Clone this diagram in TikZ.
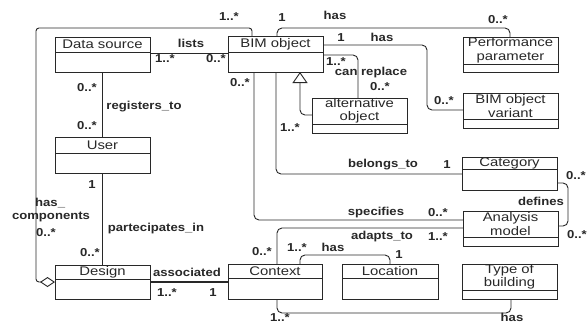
\documentclass[tikz,border=0pt]{standalone}
\usepackage{fontspec}
\setmainfont{Liberation Sans}
\newfontfamily\clsfont{Liberation Sans}[FakeStretch=1.19]
\newfontfamily\lblfont{Liberation Sans}[FakeStretch=1.14]
\usetikzlibrary{arrows.meta}
\definecolor{ink}{RGB}{40,40,40}

% UML class: name, x1, y1, x2, y2, y of title divider, title
\newcommand\umlclass[7]{%
  \node[clsbox, minimum width={#4-#2}, minimum height={#5-#3}] (#1) at ({(#2+#4)/2},{(#3+#5)/2}) {};
  \draw[clsline] (#2,#6) -- (#4,#6);
  \node[clsname] (#1-title) at ({(#2+#4)/2},{(#3+#6)/2}) {#7};
}

\begin{document}
\begin{tikzpicture}[x=1pt,y=-1pt,
  clsbox/.style={draw=ink, line width=0.9pt, inner sep=0pt, outer sep=0pt, rectangle},
  clsline/.style={draw=ink, line width=0.9pt},
  clsname/.style={font=\clsfont\fontsize{12.5}{13.5}\selectfont, text=ink, align=center, inner sep=0pt},
  lbl/.style={font=\lblfont\bfseries\fontsize{11.5}{13}\selectfont, text=ink, inner sep=0pt},
  conn/.style={draw=ink, line width=0.9pt, rounded corners=5pt},
]
\useasboundingbox (0,0) rectangle (587,322);
\fill[white] (0,0) rectangle (587,322);

% classes
\umlclass{ds}{55}{37}{150}{72}{52}{Data source}
\umlclass{bim}{228}{36}{323}{72}{52}{BIM object}
\umlclass{perf}{463}{37}{558}{72}{64}{Performance\\parameter}
\umlclass{var}{463}{93}{558}{128}{119}{BIM object\\variant}
\umlclass{alt}{312}{98}{407}{133}{124}{alternative\\object}
\umlclass{cat}{462}{157}{557}{190}{169}{Category}
\umlclass{am}{463}{211}{558}{246}{237}{Analysis\\model}
\umlclass{user}{55}{137}{150}{173}{153}{User}
\umlclass{des}{55}{265}{150}{299}{279}{Design}
\umlclass{ctx}{228}{264}{322}{299}{278}{Context}
\umlclass{loc}{342}{264}{438}{299}{278}{Location}
\umlclass{tob}{462}{264}{557}{299}{290}{Type of\\building}

% associations
\draw[conn] (ds.east |- 0,53) -- (bim.west |- 0,53);
\draw[conn] (ds.south) -- (user.north);
\draw[conn] (user.south) -- (des.north);
\draw[conn, rounded corners=3pt, -{Diamond[open, fill=white, length=15pt, width=10pt]}]
  (bim.north -| 252,0) -- (252,28) -- (36,28) -- (36,282) -- (des.west |- 0,282);
\draw[conn] (bim.north -| 277,0) -- (277,28) -- (510,28) -- (perf.north -| 510,0);
\draw[conn] (bim.east |- 0,45) -- (427,45) -- (427,110) -- (var.west |- 0,110);
\draw[conn] (bim.east |- 0,55) -- (358,55) -- (alt.north -| 358,0);
\draw[conn, -{Triangle[open, fill=white, length=11pt, width=15pt]}]
  (alt.west |- 0,115) -- (300,115) -- (bim.south -| 300,0);
\draw[conn] (bim.south -| 276,0) -- (276,174) -- (cat.west |- 0,174);
\draw[conn] (bim.south -| 254,0) -- (254,220) -- (am.west |- 0,220);
\draw[conn] (cat.east |- 0,183) -- (568,183) -- (568,226) -- (am.east |- 0,226);
\draw[conn] (ctx.north -| 277,0) -- (277,228) -- (am.west |- 0,228);
\draw[conn, line width=1.5pt] (des.east |- 0,282) -- (ctx.west |- 0,282);
\draw[conn] (ctx.north -| 300,0) -- (300,255) -- (390,255) -- (loc.north -| 390,0);
\draw[conn] (ctx.south -| 277,0) -- (277,313) -- (511,313) -- (tob.south -| 511,0);

% role names and multiplicities
\node[lbl] at (229,17) {1..*};
\node[lbl] at (282,18) {1};
\node[lbl] at (335,15) {has};
\node[lbl] at (498,20) {0..*};
\node[lbl] at (191,43) {lists};
\node[lbl] at (165,59) {1..*};
\node[lbl] at (216,59) {0..*};
\node[lbl] at (341,38) {1};
\node[lbl] at (382,37) {has};
\node[lbl] at (336,62) {1..*};
\node[lbl] at (371,73) {can replace};
\node[lbl] at (380,87) {0..*};
\node[lbl] at (444,101) {0..*};
\node[lbl] at (240,83) {0..*};
\node[lbl] at (290,128) {1..*};
\node[lbl] at (87,88) {0..*};
\node[lbl] at (144,107) {registers\_to};
\node[lbl] at (87,126) {0..*};
\node[lbl] at (92,185) {1};
\node[lbl] at (156,229) {partecipates\_in};
\node[lbl] at (90,253) {0..*};
\node[lbl, anchor=west] at (35,203) {has\_};
\node[lbl] at (51,217) {components};
\node[lbl] at (46,233) {0..*};
\node[lbl] at (187,272) {associated};
\node[lbl] at (167,293) {1..*};
\node[lbl] at (213,293) {1};
\node[lbl] at (262,252) {0..*};
\node[lbl] at (297,248) {1..*};
\node[lbl] at (333,247) {has};
\node[lbl] at (399,255) {1};
\node[lbl] at (383,165) {belongs\_to};
\node[lbl] at (447,165) {1};
\node[lbl] at (576,176) {0..*};
\node[lbl] at (541,201) {defines};
\node[lbl] at (376,213) {specifies};
\node[lbl] at (438,213) {0..*};
\node[lbl] at (382,237) {adapts\_to};
\node[lbl] at (438,237) {1..*};
\node[lbl] at (577,235) {0..*};
\node[lbl, anchor=base] at (280,321) {1..*};
\node[lbl, anchor=base] at (512,321) {has};
\end{tikzpicture}
\end{document}
